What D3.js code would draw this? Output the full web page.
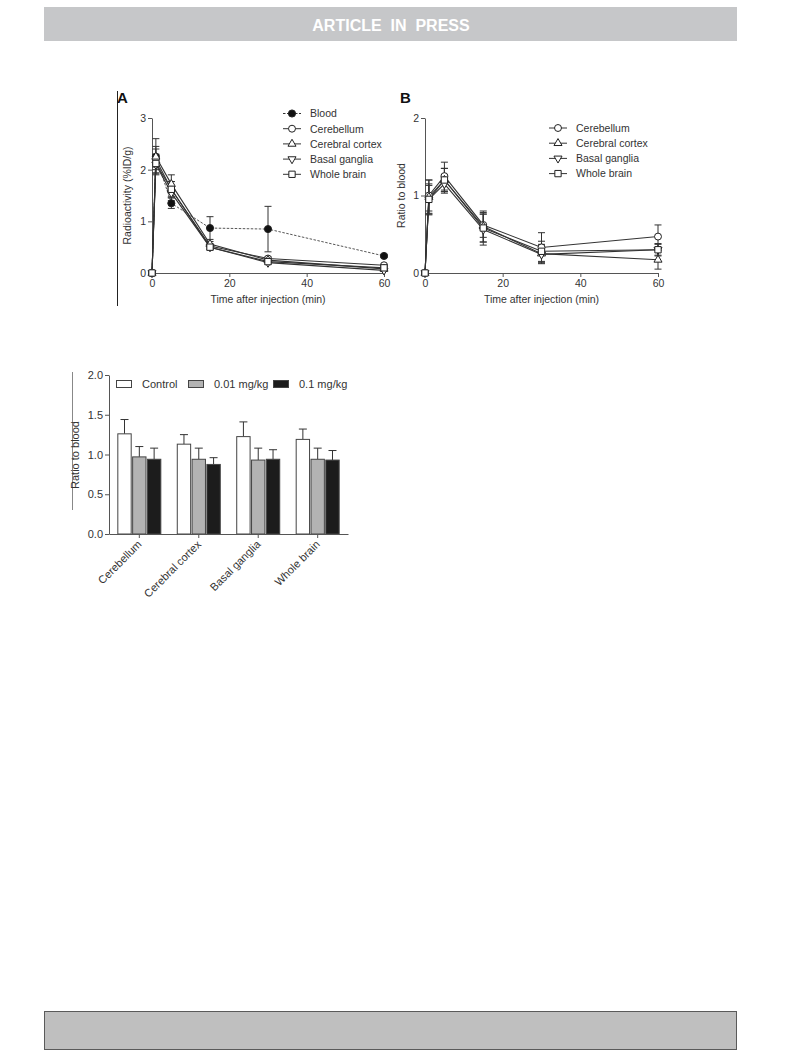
<!DOCTYPE html>
<html>
<head>
<meta charset="utf-8">
<script src="https://cdn.jsdelivr.net/npm/d3@7"></script>
<style>
  html, body { margin: 0; padding: 0; background: #fff; }
  svg { display: block; font-family: "Liberation Sans", Arial, Helvetica, sans-serif; }
</style>
</head>
<body>
<svg id="page" width="793" height="1057"></svg>
<script>
// ---- Panel A: tissue radioactivity (%ID/g) over time ----
const timePoints = [0, 1, 5, 15, 30, 60];
const regionNames = ["Blood", "Cerebellum", "Cerebral cortex", "Basal ganglia", "Whole brain"];
const uptakeBlood      = [0, 2.25, 1.35, 0.87, 0.85, 0.33];
const uptakeBloodErr   = [0, 0.35, 0.10, 0.22, 0.44, 0.03];
const uptakeCerebellum = [0, 2.20, 1.62, 0.52, 0.28, 0.15];
const uptakeCerebErr   = [0, 0.20, 0.15, 0.05, 0.03, 0.02];
const uptakeCortex     = [0, 2.25, 1.72, 0.56, 0.25, 0.08];
const uptakeCortexErr  = [0, 0.20, 0.18, 0.05, 0.03, 0.02];
const uptakeBasal      = [0, 2.10, 1.55, 0.50, 0.20, 0.05];
const uptakeBasalErr   = [0, 0.18, 0.15, 0.05, 0.03, 0.02];
const uptakeWhole      = [0, 2.12, 1.62, 0.50, 0.22, 0.10];
const uptakeWholeErr   = [0, 0.18, 0.15, 0.05, 0.03, 0.02];
const uptakeTicksY = [0, 1, 2, 3];
const timeTicks = [0, 20, 40, 60];

// ---- Panel B: tissue-to-blood ratio over time ----
const ratioCerebellum    = [0, 1.00, 1.25, 0.62, 0.33, 0.47];
const ratioCerebellumErr = [0, 0.20, 0.18, 0.16, 0.19, 0.15];
const ratioCortex        = [0, 0.98, 1.20, 0.60, 0.25, 0.17];
const ratioCortexErr     = [0, 0.22, 0.15, 0.20, 0.12, 0.12];
const ratioBasal         = [0, 0.95, 1.15, 0.56, 0.24, 0.30];
const ratioBasalErr      = [0, 0.20, 0.12, 0.20, 0.12, 0.08];
const ratioWhole         = [0, 0.95, 1.20, 0.58, 0.28, 0.30];
const ratioWholeErr      = [0, 0.18, 0.15, 0.18, 0.13, 0.07];
const ratioTicksY = [0, 1, 2];

// ---- Panel C: blocking study, ratio to blood ----
const blockRegions = ["Cerebellum", "Cerebral cortex", "Basal ganglia", "Whole brain"];
const blockGroups = ["Control", "0.01 mg/kg", "0.1 mg/kg"];
const blockControl    = [1.26, 1.13, 1.225, 1.19];
const blockControlErr = [0.18, 0.12, 0.185, 0.13];
const blockLow        = [0.97, 0.94, 0.93, 0.94];
const blockLowErr     = [0.13, 0.14, 0.15, 0.14];
const blockHigh       = [0.94, 0.875, 0.94, 0.93];
const blockHighErr    = [0.14, 0.085, 0.12, 0.12];
const blockTicksY = [0, 0.5, 1.0, 1.5, 2.0];

const axisInk = "#555";
const svg = d3.select("#page");

// ---- page header / footer bands ----
svg.append("rect").attr("x", 44).attr("y", 7).attr("width", 693).attr("height", 34).attr("fill", "#c6c7c9");
svg.append("text").attr("x", 391).attr("y", 30.5).attr("text-anchor", "middle")
  .attr("fill", "#fff").attr("font-weight", "bold").attr("font-size", 16)
  .attr("xml:space", "preserve").style("white-space", "pre")
  .text("ARTICLE  IN  PRESS");
svg.append("rect").attr("x", 44.5).attr("y", 1011.5).attr("width", 692).attr("height", 38)
  .attr("fill", "#bfbfbf").attr("stroke", "#5a5a5a").attr("stroke-width", 1);

// thin rules along the left of the figure panels
svg.append("line").attr("x1", 117.5).attr("x2", 117.5).attr("y1", 91).attr("y2", 306).attr("stroke", "#222").attr("stroke-width", 1);
svg.append("line").attr("x1", 72.5).attr("x2", 72.5).attr("y1", 372).attr("y2", 510).attr("stroke", "#888").attr("stroke-width", 1);

// ---- marker shapes ----
const markerShapes = {
  "Blood": d3.symbol().type(d3.symbolCircle).size(40),
  "Cerebellum": d3.symbol().type(d3.symbolCircle).size(38),
  "Cerebral cortex": d3.symbol().type(d3.symbolTriangle).size(28),
  "Basal ganglia": d3.symbol().type(d3.symbolTriangle).size(28),
  "Whole brain": d3.symbol().type(d3.symbolSquare).size(40)
};
function drawMarker(g, name, x, y) {
  const p = g.append("path").attr("d", markerShapes[name]())
    .attr("fill", name === "Blood" ? "#111" : "#fff")
    .attr("stroke", "#222").attr("stroke-width", 1);
  const rot = name === "Basal ganglia" ? " rotate(180)" : "";
  p.attr("transform", `translate(${x},${y})${rot}`);
}

function styleAxis(g) {
  g.selectAll("path.domain").attr("stroke", axisInk).attr("stroke-width", 1);
  g.selectAll(".tick line").attr("stroke", axisInk);
  g.selectAll(".tick text").attr("fill", "#333").attr("font-size", 10.5)
    .attr("font-family", "'Liberation Sans', Arial, sans-serif");
}

function timeCoursePanel(opts) {
  const x = d3.scaleLinear().domain([0, 60]).range(opts.xRange);
  const y = d3.scaleLinear().domain(opts.yDomain).range(opts.yRange);
  const g = svg.append("g");

  g.append("g").attr("transform", `translate(0,${opts.yRange[0]})`)
    .call(d3.axisBottom(x).tickValues(timeTicks).tickSize(4).tickPadding(3).tickSizeOuter(0))
    .call(styleAxis);
  g.append("g").attr("transform", `translate(${opts.xRange[0]},0)`)
    .call(d3.axisLeft(y).tickValues(opts.yTicks).tickFormat(d3.format("d")).tickSize(4).tickPadding(2).tickSizeOuter(0))
    .call(styleAxis);

  // panel letter
  g.append("text").attr("x", opts.letterX).attr("y", 103).attr("font-weight", "bold")
    .attr("font-size", 15).attr("fill", "#111").text(opts.letter);

  // axis titles
  g.append("text").attr("x", (opts.xRange[0] + opts.xRange[1]) / 2).attr("y", 302.5)
    .attr("text-anchor", "middle").attr("font-size", 10.5).attr("fill", "#333")
    .text("Time after injection (min)");
  g.append("text")
    .attr("transform", `translate(${opts.yTitleX},${(opts.yRange[0] + opts.yRange[1]) / 2}) rotate(-90)`)
    .attr("text-anchor", "middle").attr("font-size", 10.5).attr("fill", "#333")
    .text(opts.yTitle);

  const line = d3.line().x((d, i) => x(timePoints[i])).y(d => y(d));

  // lines
  opts.series.forEach(s => {
    g.append("path").datum(s.values).attr("d", line).attr("fill", "none")
      .attr("stroke", s.name === "Blood" ? "#444" : "#333")
      .attr("stroke-width", s.name === "Blood" ? 0.9 : 1.1)
      .attr("stroke-dasharray", s.name === "Blood" ? "2.5,1.5" : null);
  });
  // error bars
  opts.series.forEach(s => {
    s.values.forEach((v, i) => {
      const e = s.errors[i];
      if (!e) return;
      const cx = x(timePoints[i]);
      const top = y(v + e), bot = y(Math.max(0, v - e));
      g.append("line").attr("x1", cx).attr("x2", cx).attr("y1", top).attr("y2", bot)
        .attr("stroke", "#333").attr("stroke-width", 1);
      [top, bot].forEach(yy => g.append("line").attr("x1", cx - 3.5).attr("x2", cx + 3.5)
        .attr("y1", yy).attr("y2", yy).attr("stroke", "#333").attr("stroke-width", 1));
    });
  });
  // markers
  opts.series.forEach(s => {
    s.values.forEach((v, i) => drawMarker(g, s.name, x(timePoints[i]), y(v)));
  });

  // legend
  opts.series.forEach((s, k) => {
    const ly = opts.legendY + k * 15.2;
    g.append("line").attr("x1", opts.legendX - 9).attr("x2", opts.legendX + 9)
      .attr("y1", ly).attr("y2", ly).attr("stroke", "#333").attr("stroke-width", 1)
      .attr("stroke-dasharray", s.name === "Blood" ? "2.5,1.5" : null);
    drawMarker(g, s.name, opts.legendX, ly);
    g.append("text").attr("x", opts.legendX + 18).attr("y", ly + 3.8)
      .attr("font-size", 10.5).attr("fill", "#333").text(s.name);
  });
}

timeCoursePanel({
  letter: "A", letterX: 117,
  xRange: [152, 384], yRange: [273, 118], yDomain: [0, 3], yTicks: uptakeTicksY,
  yTitle: "Radioactivity (%ID/g)", yTitleX: 131,
  legendX: 292, legendY: 113.5,
  series: [
    { name: regionNames[0], values: uptakeBlood, errors: uptakeBloodErr },
    { name: regionNames[1], values: uptakeCerebellum, errors: uptakeCerebErr },
    { name: regionNames[2], values: uptakeCortex, errors: uptakeCortexErr },
    { name: regionNames[3], values: uptakeBasal, errors: uptakeBasalErr },
    { name: regionNames[4], values: uptakeWhole, errors: uptakeWholeErr }
  ]
});

timeCoursePanel({
  letter: "B", letterX: 400,
  xRange: [425, 658], yRange: [273, 118], yDomain: [0, 2], yTicks: ratioTicksY,
  yTitle: "Ratio to blood", yTitleX: 405,
  legendX: 558, legendY: 128,
  series: [
    { name: regionNames[1], values: ratioCerebellum, errors: ratioCerebellumErr },
    { name: regionNames[2], values: ratioCortex, errors: ratioCortexErr },
    { name: regionNames[3], values: ratioBasal, errors: ratioBasalErr },
    { name: regionNames[4], values: ratioWhole, errors: ratioWholeErr }
  ]
});

// ---- Panel C: grouped bars ----
(function () {
  const x0 = d3.scaleBand().domain(blockRegions).range([109, 348]).paddingInner(0.26).paddingOuter(0.14);
  const x1 = d3.scaleBand().domain(blockGroups).range([0, x0.bandwidth()]).paddingInner(0.03);
  const y = d3.scaleLinear().domain([0, 2]).range([534, 375]);
  const fills = { "Control": "#fff", "0.01 mg/kg": "#b3b3b3", "0.1 mg/kg": "#1c1c1c" };
  const values = { "Control": blockControl, "0.01 mg/kg": blockLow, "0.1 mg/kg": blockHigh };
  const errors = { "Control": blockControlErr, "0.01 mg/kg": blockLowErr, "0.1 mg/kg": blockHighErr };
  const g = svg.append("g");

  // upper error bars
  blockGroups.forEach(grp => {
    blockRegions.forEach((r, i) => {
      const cx = x0(r) + x1(grp) + x1.bandwidth() / 2;
      const v = values[grp][i], e = errors[grp][i];
      g.append("line").attr("x1", cx).attr("x2", cx).attr("y1", y(v)).attr("y2", y(v + e))
        .attr("stroke", "#333").attr("stroke-width", 1);
      g.append("line").attr("x1", cx - 4).attr("x2", cx + 4).attr("y1", y(v + e)).attr("y2", y(v + e))
        .attr("stroke", "#333").attr("stroke-width", 1);
    });
  });
  blockGroups.forEach(grp => {
    g.selectAll(null).data(values[grp]).enter().append("rect")
      .attr("x", (d, i) => x0(blockRegions[i]) + x1(grp) + 0.5)
      .attr("y", d => y(d))
      .attr("width", x1.bandwidth() - 1)
      .attr("height", d => y(0) - y(d))
      .attr("fill", fills[grp]).attr("stroke", "#444").attr("stroke-width", 1);
  });

  g.append("g").attr("transform", "translate(0,534)")
    .call(d3.axisBottom(x0).tickSize(4).tickSizeOuter(0).tickFormat(""))
    .call(styleAxis);
  g.append("g").attr("transform", "translate(109,0)")
    .call(d3.axisLeft(y).tickValues(blockTicksY).tickFormat(d3.format(".1f")).tickSize(4).tickPadding(2).tickSizeOuter(0))
    .call(styleAxis);
  g.selectAll(".tick text").attr("font-size", 11);

  // rotated category labels
  blockRegions.forEach(r => {
    const cx = x0(r) + x0.bandwidth() / 2;
    g.append("text").attr("transform", `translate(${cx + 3},${545}) rotate(-45)`)
      .attr("text-anchor", "end").attr("font-size", 11).attr("fill", "#333").text(r);
  });

  g.append("text").attr("transform", "translate(79,455) rotate(-90)")
    .attr("text-anchor", "middle").attr("font-size", 11).attr("fill", "#333").text("Ratio to blood");

  // legend
  const legendX = [116, 188, 273];
  blockGroups.forEach((grp, k) => {
    g.append("rect").attr("x", legendX[k] + 0.5).attr("y", 380.5).attr("width", 15).attr("height", 7)
      .attr("fill", fills[grp]).attr("stroke", "#444").attr("stroke-width", 1);
    g.append("text").attr("x", legendX[k] + 26).attr("y", 388).attr("font-size", 11)
      .attr("fill", "#333").text(grp);
  });
})();
</script>
</body>
</html>
